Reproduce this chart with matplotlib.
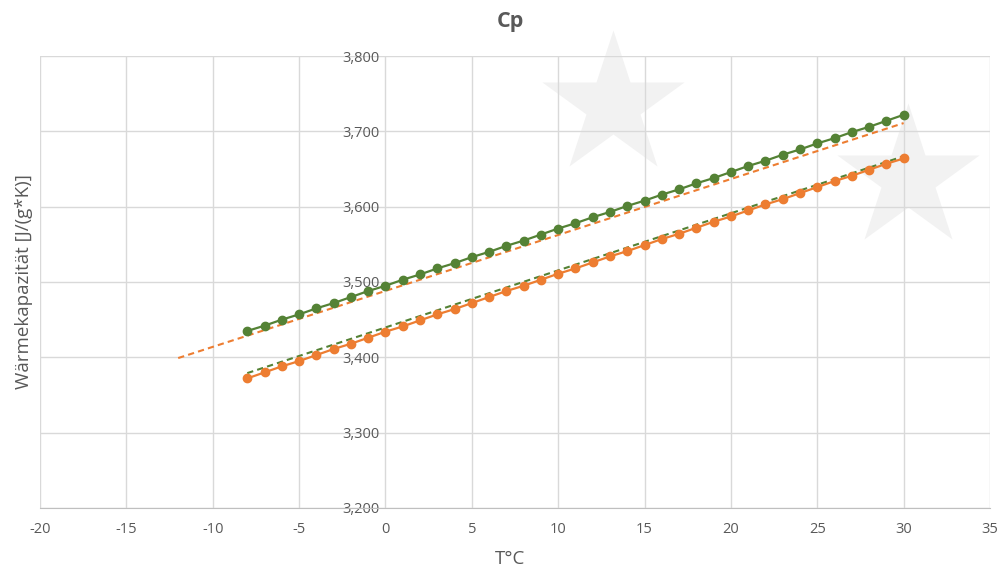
import matplotlib.pyplot as plt
from matplotlib.ticker import FuncFormatter, MultipleLocator

plt.rcParams['font.family'] = ['Open Sans', 'DejaVu Sans']
plt.rcParams['axes.unicode_minus'] = False

# data
temps = list(range(-8, 31))
cp_green = [3.435, 3.442, 3.450, 3.457, 3.465, 3.472, 3.480, 3.488, 3.495,
            3.503, 3.510, 3.518, 3.525, 3.533, 3.540, 3.548, 3.555, 3.563,
            3.571, 3.578, 3.586, 3.593, 3.601, 3.608, 3.616, 3.623, 3.631,
            3.638, 3.646, 3.654, 3.661, 3.669, 3.676, 3.684, 3.691, 3.699,
            3.706, 3.714, 3.722]
cp_orange = [3.372, 3.380, 3.388, 3.395, 3.403, 3.411, 3.418, 3.426, 3.434,
             3.441, 3.449, 3.457, 3.464, 3.472, 3.480, 3.488, 3.495, 3.503,
             3.511, 3.518, 3.526, 3.534, 3.541, 3.549, 3.557, 3.564, 3.572,
             3.580, 3.587, 3.595, 3.603, 3.610, 3.618, 3.626, 3.634, 3.641,
             3.649, 3.657, 3.664]

# trendlines (endpoints)
trend_orange_x = [-12, 30]
trend_orange_y = [3.399, 3.711]
trend_green_x = [-8, 30]
trend_green_y = [3.379, 3.667]

GREEN = "#548235"
ORANGE = "#ED7D31"
TEXT = "#595959"
GRID = "#d9d9d9"


def de_fmt(v, pos):
    # 3.8 -> "3,800"
    whole = int(v)
    frac = int(round((v - whole) * 1000))
    return f"{whole},{frac:03d}"


fig = plt.figure(figsize=(10, 5.72), dpi=100)
ax = fig.add_axes([0.04, 0.112, 0.95, 0.790])

# background stars (watermark)
for cx, cy in [(613, 105), (908, 178)]:
    ax.plot([cx / 1000], [1 - cy / 572], marker="*", ms=108, color="#f2f2f2",
            mec="none", transform=fig.transFigure, zorder=0, clip_on=False)

ax.plot(temps, cp_green, color=GREEN, lw=1.6, marker="o", ms=6, zorder=4)
ax.plot(temps, cp_orange, color=ORANGE, lw=1.6, marker="o", ms=6, zorder=4)
ax.plot(trend_orange_x, trend_orange_y, color=ORANGE, lw=1.5, ls=(0, (3, 2)), zorder=3)
ax.plot(trend_green_x, trend_green_y, color=GREEN, lw=1.5, ls=(0, (3, 2)), zorder=3)

ax.set_xlim(-20, 35)
ax.set_ylim(3.2, 3.8)
ax.xaxis.set_major_locator(MultipleLocator(5))
ax.yaxis.set_major_locator(MultipleLocator(0.1))
ax.yaxis.set_major_formatter(FuncFormatter(de_fmt))

ax.set_facecolor("none")
ax.grid(True, color=GRID, lw=1, zorder=1)
ax.set_axisbelow(True)
for s in ["top", "right"]:
    ax.spines[s].set_visible(False)
ax.spines["left"].set_position(("data", 0))
ax.spines["left"].set_visible(False)
ax.spines["bottom"].set_color("#bfbfbf")
ax.tick_params(length=0, colors=TEXT, labelsize=10.5)
ax.tick_params(axis="x", pad=10)
ax.tick_params(axis="y", pad=4)

fig.text(0.51, 0.962, "Cp", ha="center", va="center", fontsize=15.5,
         fontweight="bold", color=TEXT)
fig.text(0.024, 0.507, "Wärmekapazität [J/(g*K)]", rotation=90, ha="center",
         va="center", fontsize=13.5, color=TEXT)
fig.text(0.51, 0.022, "T°C", ha="center", va="center", fontsize=13.5, color=TEXT)

fig.savefig("out.png", dpi=100)
